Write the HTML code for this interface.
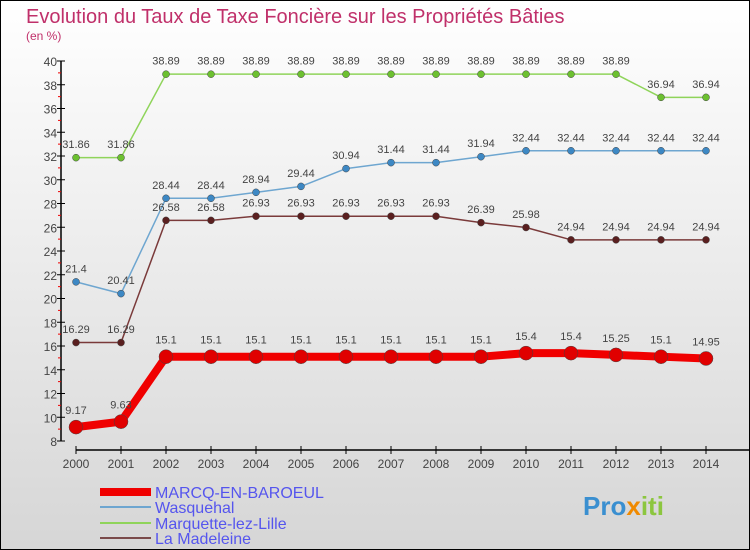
<!DOCTYPE html>
<html><head><meta charset="utf-8"><style>
html,body{margin:0;padding:0}
body{width:750px;height:550px;overflow:hidden;font-family:"Liberation Sans",sans-serif}
svg{display:block}
</style></head><body>
<svg width="750" height="550" xmlns="http://www.w3.org/2000/svg">
<defs><linearGradient id="bg" x1="0" y1="0" x2="0" y2="1"><stop offset="0" stop-color="#ffffff"/><stop offset="1" stop-color="#d6d6d6"/></linearGradient></defs>
<rect x="0.5" y="0.5" width="749" height="549" fill="url(#bg)" stroke="#000"/>
<text x="26" y="23" font-size="20" fill="#c0306a">Evolution du Taux de Taxe Foncière sur les Propriétés Bâties</text>
<text x="26" y="40" font-size="12" fill="#c0306a">(en %)</text>
<g id="axes"></g>
<g id="series"></g>
<g id="legend"></g>
<text x="583" y="515" font-size="26" font-weight="bold" fill="#3a8fd0">Pro<tspan fill="#f08a00">x</tspan><tspan fill="#8cc63f">iti</tspan></text>
</svg>
<script>
const years=[2000,2001,2002,2003,2004,2005,2006,2007,2008,2009,2010,2011,2012,2013,2014];
const marcq=[9.17,9.63,15.1,15.1,15.1,15.1,15.1,15.1,15.1,15.1,15.4,15.4,15.25,15.1,14.95];
const wasq=[21.4,20.41,28.44,28.44,28.94,29.44,30.94,31.44,31.44,31.94,32.44,32.44,32.44,32.44,32.44];
const marq=[31.86,31.86,38.89,38.89,38.89,38.89,38.89,38.89,38.89,38.89,38.89,38.89,38.89,36.94,36.94];
const mad=[16.29,16.29,26.58,26.58,26.93,26.93,26.93,26.93,26.93,26.39,25.98,24.94,24.94,24.94,24.94];
const yTicks=[8,10,12,14,16,18,20,22,24,26,28,30,32,34,36,38,40];
const NS="http://www.w3.org/2000/svg";
const X=i=>76+i*45;
const Y=v=>441-(v-8)*(380/32);
function mk(tag,attrs,parent){const e=document.createElementNS(NS,tag);for(const k in attrs)e.setAttribute(k,attrs[k]);parent.appendChild(e);return e;}
const axes=document.getElementById('axes');
let a=mk('line',{x1:61,y1:Y(40),x2:61,y2:Y(8),stroke:'#000','stroke-width':1.5},axes);


yTicks.forEach(t=>{
 let l=mk('line',{x1:57,y1:Y(t),x2:65,y2:Y(t),stroke:'#000'},axes);
 
 
 let m=mk('line',{x1:58,y1:Y(t+1),x2:61,y2:Y(t+1),stroke:'#e00'},axes);
 if(t===40)m.remove();
 let tx=mk('text',{x:57,y:Y(t)+5,'font-size':12,fill:'#444','text-anchor':'end'},axes);
 tx.textContent=t;
 
 
});
let xa=mk('line',{x1:76,y1:450,x2:750,y2:450,stroke:'#000','stroke-width':1.5},axes);


years.forEach((y,i)=>{
 let l=mk('line',{x1:X(i),y1:446,x2:X(i),y2:454,stroke:'#000'},axes);
 
 
 let tx=mk('text',{x:X(i),y:468,'font-size':12,fill:'#444','text-anchor':'middle'},axes);
 tx.textContent=y;
 
 
});
const series=[
 {name:'marquette',data:marq,color:'#8fd45a',dot:'#6cc030',w:1.5,r:3.5},
 {name:'wasquehal',data:wasq,color:'#6ea6d0',dot:'#3d88c4',w:1.5,r:3.5},
 {name:'la-madeleine',data:mad,color:'#7a3a3a',dot:'#5a1f1f',w:1.5,r:3.5},
 {name:'marcq',data:marcq,color:'#f00000',dot:'#e00000',w:8,r:7}
];
const sg=document.getElementById('series');
series.forEach(s=>{
 const g=mk('g',{},sg);
 
 
 let p=mk('polyline',{points:s.data.map((v,i)=>X(i)+','+Y(v)).join(' '),fill:'none',stroke:s.color,'stroke-width':s.w,'stroke-linejoin':'round'},g);
 
 
 s.data.forEach((v,i)=>{
  let c=mk('circle',{cx:X(i),cy:Y(v),r:s.r,fill:s.dot,stroke:'#444','stroke-width':0.5},g);
  
  
  let t=mk('text',{x:X(i),y:Y(v)-(s.r+6),'font-size':11,fill:'#444','text-anchor':'middle'},g);
  t.textContent=v;
  
  
 });
});
const lg=document.getElementById('legend');
const leg=[['MARCQ-EN-BAROEUL','#f00000',8,492],['Wasquehal','#6ea6d0',2,507],['Marquette-lez-Lille','#8fd45a',2,523],['La Madeleine','#7a4a4a',2,538]];
leg.forEach(e=>{
 const g=mk('g',{},lg);
 
 
 mk('line',{x1:100,y1:e[3],x2:151,y2:e[3],stroke:e[1],'stroke-width':e[2]},g);
 let t=mk('text',{x:155,y:e[3]+6,'font-size':16,fill:'#5555ee'},g);
 t.textContent=e[0];
});
</script>
</body></html>
